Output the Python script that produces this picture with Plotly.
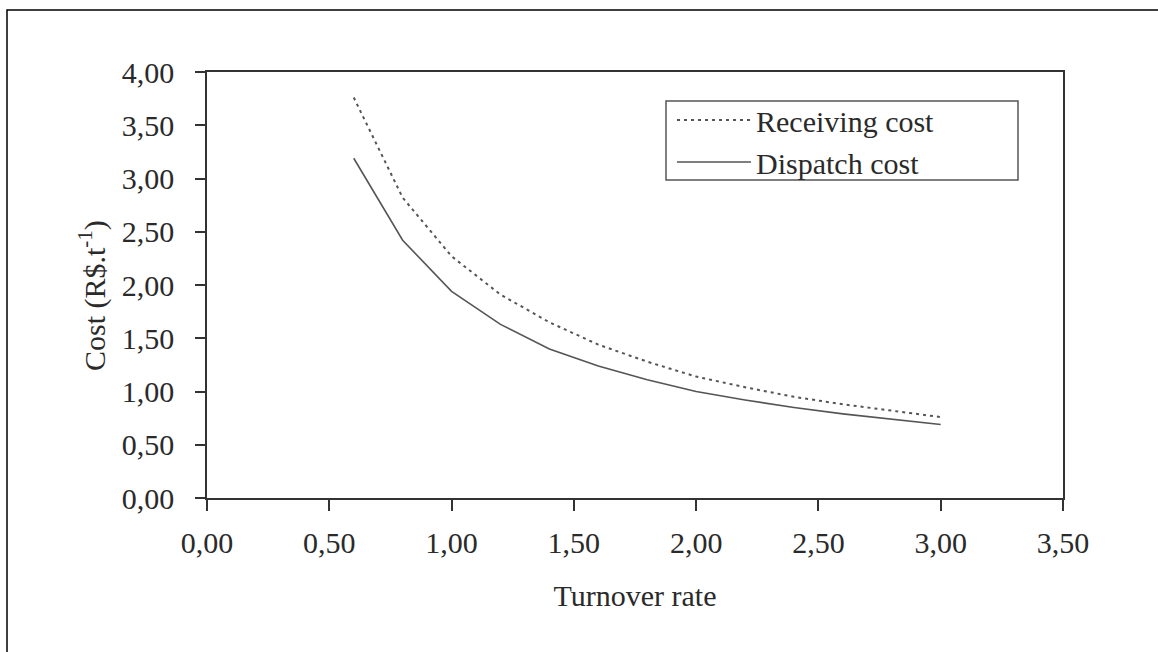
import plotly.graph_objects as go

turnover = [0.6, 0.8, 1.0, 1.2, 1.4, 1.6, 1.8, 2.0, 2.2, 2.4, 2.6, 2.8, 3.0]
receiving_cost = [3.76, 2.82, 2.27, 1.91, 1.65, 1.44, 1.28, 1.14, 1.04, 0.95, 0.88, 0.82, 0.76]
dispatch_cost = [3.19, 2.42, 1.94, 1.63, 1.40, 1.24, 1.11, 1.00, 0.92, 0.85, 0.79, 0.74, 0.69]

x_ticks = [0, 0.5, 1.0, 1.5, 2.0, 2.5, 3.0, 3.5]
x_labels = ["0,00", "0,50", "1,00", "1,50", "2,00", "2,50", "3,00", "3,50"]
y_ticks = [0, 0.5, 1.0, 1.5, 2.0, 2.5, 3.0, 3.5, 4.0]
y_labels = ["0,00", "0,50", "1,00", "1,50", "2,00", "2,50", "3,00", "3,50", "4,00"]

FONT = "Liberation Serif, Times New Roman, serif"
FS = 30
INK = "#2a2a2a"
LINE = "#555555"

fig = go.Figure()
fig.add_trace(go.Scatter(x=turnover, y=receiving_cost, mode="lines", name="Receiving cost",
                         line=dict(color=LINE, width=2, dash="3px,4px")))
fig.add_trace(go.Scatter(x=turnover, y=dispatch_cost, mode="lines", name="Dispatch cost",
                         line=dict(color=LINE, width=1.6)))

L, R, T, B = 207, 95, 72, 154
W, H = 1158, 652
pw, ph = W - L - R, H - T - B

def px_to_paper_x(px):
    return (px - L) / pw

def px_to_paper_y(py):
    return (H - B - py) / ph

fig.update_layout(
    width=W, height=H,
    margin=dict(l=L, r=R, t=T, b=B, autoexpand=False),
    paper_bgcolor="white", plot_bgcolor="white",
    font=dict(family=FONT, size=FS, color=INK),
    showlegend=True,
    legend=dict(x=px_to_paper_x(672), y=px_to_paper_y(94), xanchor="left", yanchor="top",
                borderwidth=0, bgcolor="rgba(0,0,0,0)",
                font=dict(family=FONT, size=FS, color=INK),
                itemwidth=74, tracegroupgap=0),
    xaxis=dict(range=[0, 3.5], tickvals=x_ticks, ticktext=x_labels,
               showgrid=False, zeroline=False, showline=True, linecolor="#333333", linewidth=1.5,
               mirror=True, ticks="outside", ticklen=11, tickwidth=1.5, tickcolor="#333333",
               ticklabelstandoff=6,
               tickfont=dict(family=FONT, size=FS, color=INK),
               title=dict(text="Turnover rate", font=dict(family=FONT, size=FS, color=INK), standoff=27)),
    yaxis=dict(range=[0, 4.0], tickvals=y_ticks, ticktext=y_labels,
               showgrid=False, zeroline=False, showline=True, linecolor="#333333", linewidth=1.5,
               mirror=True, ticks="outside", ticklen=10, tickwidth=1.5, tickcolor="#333333",
               ticklabelstandoff=15,
               tickfont=dict(family=FONT, size=FS, color=INK)),
)

# y-axis title placed as in the reference
fig.add_annotation(text="Cost (R$.t<sup>-1</sup>)", textangle=-90, showarrow=False,
                   xref="paper", yref="paper", x=px_to_paper_x(92), y=px_to_paper_y(296),
                   xanchor="center", yanchor="middle",
                   font=dict(family=FONT, size=FS, color=INK))

# legend frame
fig.add_shape(type="rect", xref="paper", yref="paper",
              x0=px_to_paper_x(666), x1=px_to_paper_x(1018),
              y0=px_to_paper_y(180), y1=px_to_paper_y(101),
              line=dict(color="#555555", width=1.5), fillcolor="white", layer="below")

# outer frame (only top and left edges visible in the image)
fig.add_shape(type="rect", xref="paper", yref="paper",
              x0=px_to_paper_x(7), x1=px_to_paper_x(1175),
              y0=px_to_paper_y(670), y1=px_to_paper_y(10),
              line=dict(color="black", width=1.5), fillcolor="rgba(0,0,0,0)", layer="above")

fig.write_html("out.html", config={"displayModeBar": False})

# remove the browser's default page margin so the figure sits at the window origin
with open("out.html", "r", encoding="utf-8") as f:
    html = f.read()
html = html.replace("<head>", "<head><style>html,body{margin:0;padding:0;}</style>", 1)
with open("out.html", "w", encoding="utf-8") as f:
    f.write(html)
